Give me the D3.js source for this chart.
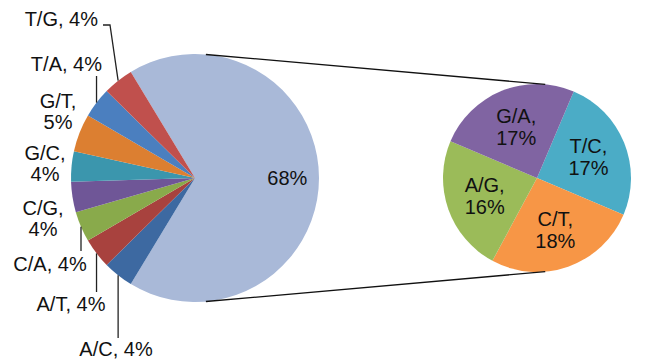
<!DOCTYPE html>
<html>
<head>
<meta charset="utf-8">
<script src="https://cdn.jsdelivr.net/npm/d3@7"></script>
<style>
  html, body { margin: 0; padding: 0; background: #fff; }
  svg { display: block; font-family: "Liberation Sans", Arial, sans-serif; }
</style>
</head>
<body>
<svg id="chart" width="647" height="361"></svg>
<script>
// Substitution types: primary pie (the first slice is the group split out below)
const mainCategories = ["Other", "A/C", "A/T", "C/A", "C/G", "G/C", "G/T", "T/A", "T/G"];
const mainValues = [68, 4, 4, 4, 4, 4, 5, 4, 4];

// Breakdown of the grouped slice
const subCategories = ["T/C", "C/T", "A/G", "G/A"];
const subValues = [17, 18, 16, 17];

const mainColors = {
  "Other": "#a9b9d8", "A/C": "#3d69a1", "A/T": "#a8423e", "C/A": "#89aa4b",
  "C/G": "#6f5697", "G/C": "#3b96ad", "G/T": "#dc7f31", "T/A": "#4b7fbf", "T/G": "#c0504d"
};
const subColors = { "T/C": "#4bacc6", "C/T": "#f79646", "A/G": "#9bbb59", "G/A": "#8064a2" };

// Placement of the outside labels on the primary pie (text anchor, baselines, leader bends)
const labelLayout = {
  "T/G": { x: 98,  y: 26,  anchor: "end",    leader: [[110, 25], [103, 25]] },
  "T/A": { x: 102, y: 71,  anchor: "end",    leader: [[null, 76]] },
  "G/T": { x: 58,  y: 108, anchor: "middle", split: true },
  "G/C": { x: 45,  y: 160, anchor: "middle", split: true },
  "C/G": { x: 43,  y: 215, anchor: "middle", split: true },
  "C/A": { x: 50,  y: 271, anchor: "middle", leader: [[null, 251]] },
  "A/T": { x: 71,  y: 311, anchor: "middle", leader: [[null, 292]] },
  "A/C": { x: 116, y: 356, anchor: "middle", leader: [[null, 338]] }
};

const svg = d3.select("#chart");
const fontSize = 20, lineGap = 21;

const main = { cx: 195, cy: 178, r: 124 };
const sub = { cx: 537, cy: 178, r: 94 };

// Primary pie: the grouped slice is centred on the right-hand side
const mainTotal = d3.sum(mainValues);
const mainStart = Math.PI / 2 - (mainValues[0] / mainTotal) * Math.PI;
const mainPie = d3.pie().sort(null).value(d => d.value)
  .startAngle(mainStart).endAngle(mainStart + 2 * Math.PI);
const mainData = mainPie(mainCategories.map((c, i) => ({ cat: c, value: mainValues[i] })));
const mainArc = d3.arc().innerRadius(0).outerRadius(main.r);

const gMain = svg.append("g").attr("transform", `translate(${main.cx},${main.cy})`);
gMain.selectAll("path").data(mainData).join("path")
  .attr("d", mainArc).attr("fill", d => mainColors[d.data.cat]);

// Secondary pie
const subStart = 23 * Math.PI / 180;
const subPie = d3.pie().sort(null).value(d => d.value)
  .startAngle(subStart).endAngle(subStart + 2 * Math.PI);
const subData = subPie(subCategories.map((c, i) => ({ cat: c, value: subValues[i] })));
const subArc = d3.arc().innerRadius(0).outerRadius(sub.r);
const gSub = svg.append("g").attr("transform", `translate(${sub.cx},${sub.cy})`);
gSub.selectAll("path").data(subData).join("path")
  .attr("d", subArc).attr("fill", d => subColors[d.data.cat]);

// Connector lines: outer tangents between the two pies
const dist = sub.cx - main.cx;
const alpha = Math.asin((main.r - sub.r) / dist);
[-1, 1].forEach(s => {
  svg.append("line")
    .attr("x1", main.cx + main.r * Math.sin(alpha))
    .attr("y1", main.cy + s * main.r * Math.cos(alpha))
    .attr("x2", sub.cx + sub.r * Math.sin(alpha))
    .attr("y2", sub.cy + s * sub.r * Math.cos(alpha))
    .attr("stroke", "#111").attr("stroke-width", 1.3);
});

const pct = v => Math.round(v) + "%";

// Label of the grouped slice
const otherArc = d3.arc().innerRadius(main.r * 0.745).outerRadius(main.r * 0.745);
const oc = otherArc.centroid(mainData[0]);
svg.append("text")
  .attr("x", main.cx + oc[0]).attr("y", main.cy + oc[1] + 7)
  .attr("text-anchor", "middle").attr("font-size", fontSize).attr("fill", "#111")
  .text(pct(mainValues[0]));

// Outside labels and leader lines of the small slices
const edgeArc = d3.arc().innerRadius(main.r).outerRadius(main.r);
mainData.slice(1).forEach(d => {
  const L = labelLayout[d.data.cat];
  const t = svg.append("text")
    .attr("text-anchor", L.anchor).attr("font-size", fontSize).attr("fill", "#111");
  if (L.split) {
    t.append("tspan").attr("x", L.x).attr("y", L.y).text(d.data.cat + ",");
    t.append("tspan").attr("x", L.x).attr("y", L.y + lineGap).text(pct(d.data.value));
  } else {
    t.attr("x", L.x).attr("y", L.y).text(d.data.cat + ", " + pct(d.data.value));
  }
  if (L.leader) {
    const e = edgeArc.centroid(d);
    const p0 = [main.cx + e[0], main.cy + e[1]];
    const pts = [p0].concat(L.leader.map(p => [p[0] === null ? p0[0] : p[0], p[1]]));
    svg.append("path")
      .attr("d", d3.line()(pts))
      .attr("fill", "none").attr("stroke", "#222").attr("stroke-width", 1.3);
  }
});

// Labels inside the secondary pie
const subLabelArc = d3.arc().innerRadius(sub.r * 0.59).outerRadius(sub.r * 0.59);
subData.forEach(d => {
  const c = subLabelArc.centroid(d);
  const x = sub.cx + c[0], y = sub.cy + c[1] - 4;
  const t = svg.append("text").attr("text-anchor", "middle")
    .attr("font-size", fontSize).attr("fill", "#111");
  t.append("tspan").attr("x", x).attr("y", y).text(d.data.cat + ",");
  t.append("tspan").attr("x", x).attr("y", y + 22).text(pct(d.data.value));
});
</script>
</body>
</html>
